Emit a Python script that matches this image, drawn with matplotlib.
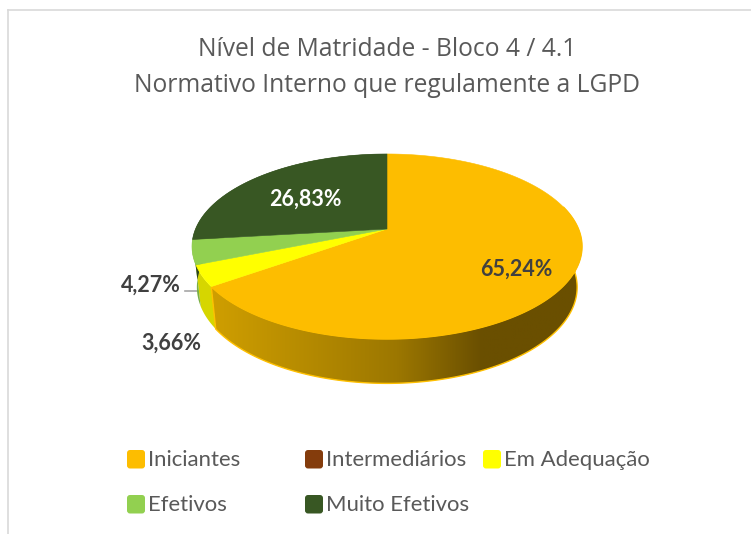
import numpy as np
import matplotlib
matplotlib.use("Agg")
import matplotlib.pyplot as plt
from matplotlib.colors import LinearSegmentedColormap
from matplotlib.patches import FancyBboxPatch, Polygon


TITLE_LINES = ["Nível de Matridade - Bloco 4 / 4.1", "Normativo Interno que regulamente a LGPD"]
CATEGORIES = ["Iniciantes", "Intermediários", "Em Adequação", "Efetivos", "Muito Efetivos"]
VALUES = [65.24, 0.0, 3.66, 4.27, 26.83]
COLORS = ["#FDBD00", "#843C0C", "#FFFF00", "#92D050", "#385723"]
SIDE_COLORS = [None, None, "#D6D600", "#7AB043", "#2C451C"]

# pie geometry, in pixels of the 751x534 image
CX, CY = 387.0, 229.0
RX, RY = 191.5, 89.2
PERSP = 0.189


def project(angle_deg):
    """Point on the top face, angle measured clockwise from 12 o'clock."""
    a = np.radians(angle_deg)
    u, v = np.sin(a), np.cos(a)
    w = 1 + PERSP * v
    return CX + RX * u / w, CY - RY * v / w


def lower_rim(x, y):
    return CX + 0.975 * (x - CX), y + 40 + 0.04 * (y - CY)


def wedge_points(start, end):
    t = np.linspace(start, end, max(int(end - start) * 2, 2))
    x, y = project(t)
    return np.column_stack([np.r_[CX, x], np.r_[CY, y]])


def side_points(start, end):
    t = np.linspace(start, end, max(int(end - start) * 2, 2))
    x, y = project(t)
    x2, y2 = lower_rim(x, y)
    return np.column_stack([np.r_[x, x2[::-1]], np.r_[y, y2[::-1]]])


fig = plt.figure(figsize=(7.51, 5.34), dpi=100)
ax = fig.add_axes([0, 0, 1, 1])
ax.set_xlim(0, 751)
ax.set_ylim(534, 0)
ax.axis("off")

# chart frame
ax.plot([8, 8], [534, 10], color="#D9D9D9", lw=1.2)
ax.plot([8, 751], [10, 10], color="#D9D9D9", lw=1.2)

edges = np.cumsum([0] + VALUES) * 3.6

# sides first, the top face covers whatever is hidden
gradient = LinearSegmentedColormap.from_list(
    "side", [(0, "#D1A000"), (0.5, "#9C7700"), (0.72, "#6A4F00"), (1, "#6A4F00")]
)
start_visible = 75.0
side = Polygon(side_points(start_visible, edges[1]), closed=True,
               facecolor="none", edgecolor="#FFC000", lw=1.0, zorder=2)
ax.add_patch(side)
grad = np.linspace(0, 1, 256).reshape(1, -1)
im = ax.imshow(grad, extent=(205, 590, 400, 240), cmap=gradient, aspect="auto", zorder=1)
im.set_clip_path(side)
ax.set_xlim(0, 751)
ax.set_ylim(534, 0)

for i in range(2, 5):
    if VALUES[i] == 0:
        continue
    ax.add_patch(Polygon(side_points(edges[i], edges[i + 1]), closed=True,
                         facecolor=SIDE_COLORS[i], edgecolor="none", zorder=1.5))

# top face
for i, value in enumerate(VALUES):
    if value == 0:
        continue
    ax.add_patch(Polygon(wedge_points(edges[i], edges[i + 1]), closed=True,
                         facecolor=COLORS[i], edgecolor=COLORS[i], lw=0.4, zorder=3))

# leader line of the small slice
ax.plot([185, 198], [291, 291], color="#A6A6A6", lw=1.2, zorder=0.5)

# title
for line, y in zip(TITLE_LINES, [49, 86]):
    ax.text(387.5, y, line, ha="center", va="center", fontsize=17.7,
            family="Open Sans", color="#595959")

# value labels, written with a decimal comma
label_pos = [(516, 269), None, (171, 343), (151, 285), (305, 199)]
label_col = ["#404040", None, "#404040", "#404040", "#FFFFFF"]
for value, pos, col in zip(VALUES, label_pos, label_col):
    if pos is None:
        continue
    ax.text(pos[0], pos[1], f"{value:.2f}%".replace(".", ","), ha="center", va="center",
            fontsize=15.5, fontweight="bold", family="Lato", color=col, zorder=5)

# legend
legend_pos = [(127, 460), (305, 460), (483, 460), (127, 505), (305, 505)]
for name, col, (x, y) in zip(CATEGORIES, COLORS, legend_pos):
    ax.add_patch(FancyBboxPatch((x + 1, y - 9), 16, 16.5, boxstyle="round,pad=1,rounding_size=3",
                                facecolor=col, edgecolor="none"))
    ax.text(x + 21.5, y, name, ha="left", va="center", fontsize=15.9,
            family="Lato", color="#595959")

fig.savefig("out.png", dpi=100)
